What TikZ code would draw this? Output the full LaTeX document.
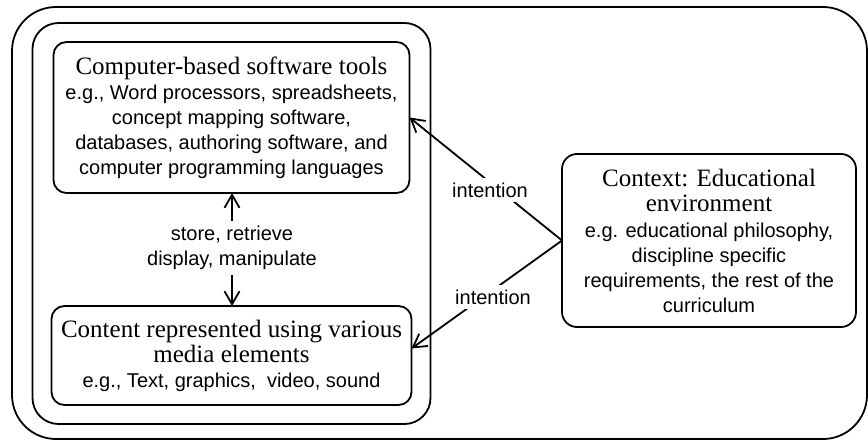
\documentclass[tikz,border=0pt]{standalone}
\usepackage{fontspec}
\setmainfont{Liberation Serif}
\setsansfont{Liberation Sans}
\usetikzlibrary{positioning,arrows.meta,fit}
\newcommand{\hd}{\rmfamily\fontsize{25}{25}\selectfont}
\newcommand{\tx}{\sffamily\fontsize{20}{25}\selectfont}

\begin{document}
\begin{tikzpicture}[x=1pt,y=-1pt,>={Straight Barb[length=13pt,width=15pt]},
   bx/.style={draw,line width=1.8pt,rounded corners=13pt,align=center,font=\tx,inner sep=0pt,outer sep=0pt},
   fr/.style={draw,line width=1.8pt,inner sep=19pt,outer sep=0pt},
   ar/.style={->,line width=1.8pt},
   lb/.style={fill=white,align=center,font=\tx,inner sep=5pt}]
  \useasboundingbox (0,0) rectangle (868,441);
  \draw[line width=1.8pt,rounded corners=44pt] (12,7) rectangle (867,439);
  \node[bx,minimum width=356pt,minimum height=151pt] (tools) at (231.5,117.5)
     {\hd Computer-based software tools\\ e.g., Word processors, spreadsheets,\\
      concept mapping software,\\ databases, authoring software, and\\
      computer programming languages};
  \node[bx,minimum width=360pt,minimum height=99pt,below=113pt of tools] (media)
     {\hd Content represented using various\\ \hd media elements\\
      e.g., Text, graphics,\ \ video, sound};
  \node[fr,rounded corners=26pt,fit=(tools)(media)] (unit) {};
  \node[bx,rounded corners=15pt,minimum width=294pt,minimum height=173pt] (ctx) at (709,240.5)
     {\hd Context: Educational\\ \hd environment\\[1pt] e.g. educational philosophy,\\
      discipline specific\\ requirements, the rest of the\\ curriculum};
  % store / retrieve between the two boxes
  \node[lb] (ops) at (232,248) {store, retrieve\\ display, manipulate};
  \draw[ar] (ops.north) -- (ops.north |- tools.south);
  \draw[ar] (ops.south) -- (ops.south |- media.north);
  % intention
  \draw[ar] (ctx.west) -- (tools.east);
  \draw[ar] (ctx.west) -- ([yshift=7pt]media.east);
  \node[lb] (int1) at (490,190) {intention};
  \node[lb] (int2) at (493,297) {intention};
\end{tikzpicture}
\end{document}
